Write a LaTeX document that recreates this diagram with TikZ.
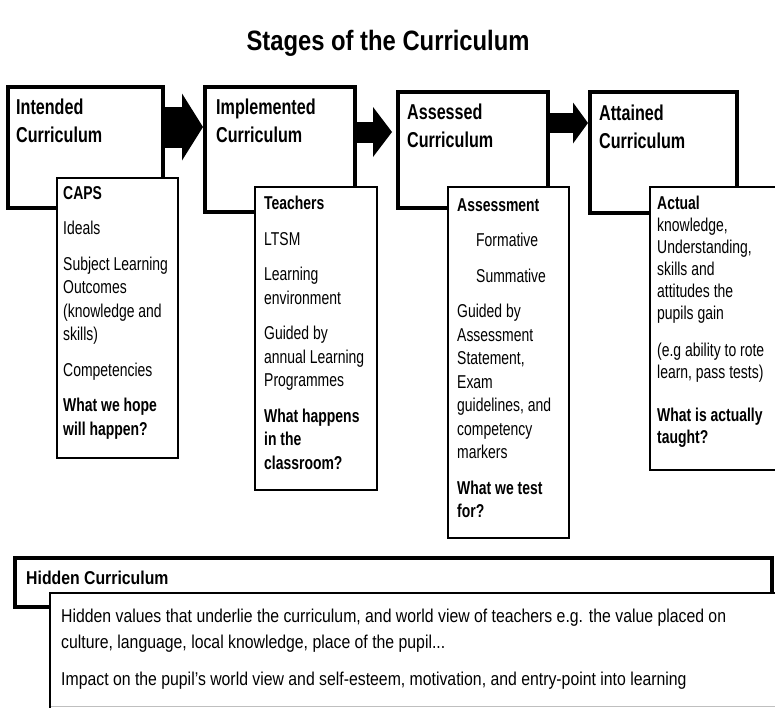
\documentclass[tikz,border=0pt]{standalone}
\usepackage{fontspec}
\setmainfont{Liberation Sans}
\newfontfamily\narrowsf{Liberation Sans}[FakeStretch=0.75]
\newfontfamily\widesf{Liberation Sans}[FakeStretch=0.85]
\usetikzlibrary{arrows.meta,calc}

\begin{document}
\begin{tikzpicture}[x=1pt,y=-1pt,
  stage/.style={draw,line width=3.4pt,fill=white,anchor=north west,inner sep=0pt,outer sep=0pt},
  inbox/.style={draw,line width=2.4pt,fill=white,anchor=north west,inner sep=0pt,outer sep=0pt},
  head/.style={anchor=north west,inner sep=0pt,align=left,font=\narrowsf\bfseries\fontsize{21.5}{28}\selectfont},
  body/.style={anchor=north west,inner sep=0pt,align=left,font=\narrowsf\fontsize{18.6}{23.5}\selectfont},
  hidtext/.style={anchor=north west,inner sep=0pt,align=left,font=\widesf\fontsize{18.6}{26}\selectfont}]
\useasboundingbox (0,0) rectangle (775,709);
\fill[white] (0,0) rectangle (775,709);
\clip (0,0) rectangle (775,709);

\node[font=\widesf\bfseries\fontsize{28}{30}\selectfont] (title) at (388,43) {Stages of the Curriculum};

% four stages, each with a detail box laid over its lower right corner
\node[stage,minimum width=155pt,minimum height=121pt] (b1) at (8,87) {};
\node[stage,minimum width=150pt,minimum height=125pt] (b2) at (205,87) {};
\node[stage,minimum width=150pt,minimum height=116pt] (b3) at (398,92) {};
\node[stage,minimum width=147pt,minimum height=121pt] (b4) at (590,92) {};
\node[head] (h1) at (16,99) {Intended\\Curriculum};
\node[head] (h2) at (216,99) {Implemented\\Curriculum};
\node[head] (h3) at (407,104) {Assessed\\Curriculum};
\node[head] (h4) at (599,105) {Attained\\Curriculum};

\node[inbox,minimum width=121pt,minimum height=280pt] (i1) at (57,178) {};
\node[inbox,minimum width=122pt,minimum height=303pt] (i2) at (255,187) {};
\node[inbox,minimum width=121pt,minimum height=351pt] (i3) at (448,187) {};
\node[inbox,minimum width=140pt,minimum height=283pt] (i4) at (650,187) {};

\node[body] (t1) at (63,186) {\textbf{CAPS}\\[12pt]Ideals\\[12pt]Subject Learning\\Outcomes\\(knowledge and\\skills)\\[12pt]Competencies\\[12pt]
  \textbf{What we hope}\\\textbf{will happen?}};
\node[body] (t2) at (264,196) {\textbf{Teachers}\\[12pt]LTSM\\[12pt]Learning\\environment\\[12pt]Guided by\\annual Learning\\Programmes\\[12pt]
  \textbf{What happens}\\\textbf{in the}\\\textbf{classroom?}};
\node[body] (t3) at (457,198) {\textbf{Assessment}\\[12pt]\hspace*{19pt}Formative\\[12pt]\hspace*{19pt}Summative\\[12pt]Guided by\\Assessment\\Statement,\\Exam\\
  guidelines, and\\competency\\markers\\[12pt]\textbf{What we test}\\\textbf{for?}};
\node[body,font=\narrowsf\fontsize{18.6}{22}\selectfont] (t4) at (657,196) {\textbf{Actual}\\knowledge,\\Understanding,\\skills and\\attitudes the\\pupils gain\\[15pt]
  (e.g ability to rote\\learn, pass tests)\\[21pt]\textbf{What is actually}\\\textbf{taught?}};

% block arrows between the stages
\coordinate (a1) at ($(b1.east)+(0,-20.5)$);
\coordinate (a2) at ($(b2.east)+(0,-17.5)$);
\coordinate (a3) at ($(b3.east)+(0,-27)$);
\draw[line width=41pt,shorten >=2pt,-{Triangle[length=21pt,width=67pt,line width=0pt]}] (a1) -- (a1 -| b2.west);
\draw[line width=21pt,shorten >=6pt,-{Triangle[length=19pt,width=50pt,line width=0pt]}] (a2) -- (a2 -| b3.west);
\draw[line width=20pt,shorten >=2pt,-{Triangle[length=15pt,width=41pt,line width=0pt]}] (a3) -- (a3 -| b4.west);

% hidden curriculum runs under all four stages
\node[stage,minimum width=757pt,minimum height=49pt] (hid) at (15,558) {};
\node[head,font=\widesf\bfseries\fontsize{18.6}{22}\selectfont] (hh) at (26,571) {Hidden Curriculum};
\node[inbox,minimum width=760pt,minimum height=114pt] (hidin) at (50,593) {};
\draw[white,line width=2.6pt] (hidin.south west) ++(1.3,0) -- (hidin.south east);
\draw[black!25,line width=1pt] (hidin.south west) ++(1.3,-1) -- ($(hidin.south east)+(0,-1)$);
\node[hidtext] (ht) at (61,609) {Hidden values that underlie the curriculum, and world view of teachers e.g. the value placed on\\
  culture, language, local knowledge, place of the pupil...\\[11pt]
  Impact on the pupil’s world view and self-esteem, motivation, and entry-point into learning};
\end{tikzpicture}
\end{document}
